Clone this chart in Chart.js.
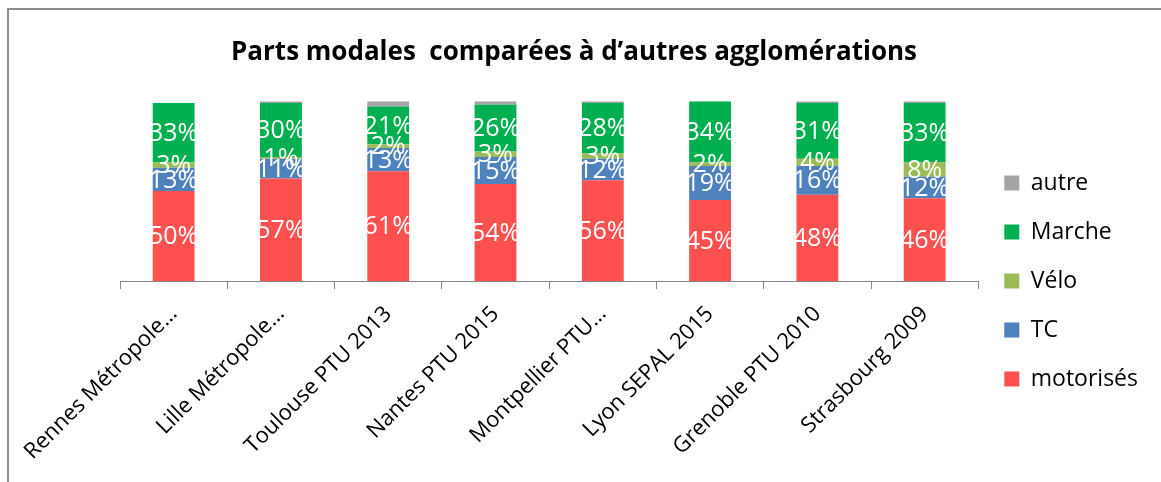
<!DOCTYPE html>
<html>
<head>
<meta charset="utf-8">
<script src="https://cdn.jsdelivr.net/npm/chart.js@4.4.0/dist/chart.umd.min.js"></script>
<style>
  html, body { margin: 0; padding: 0; background: #fff; }
  #wrap { width: 1161px; height: 482px; }
</style>
</head>
<body>
<div id="wrap"><canvas id="myChart" width="1161" height="482"></canvas></div>
<script>
const villes = ['Rennes Métropole…', 'Lille Métropole…', 'Toulouse PTU 2013', 'Nantes PTU 2015',
  'Montpellier PTU…', 'Lyon SEPAL 2015', 'Grenoble PTU 2010', 'Strasbourg 2009'];
const motorises = [50, 57, 61, 54, 56, 45, 48, 46];
const tc = [13, 11, 13, 15, 12, 19, 16, 12];
const velo = [3, 1, 2, 3, 3, 2, 4, 8];
const marche = [33, 30, 21, 26, 28, 34, 31, 33];
const autre = [0, 1, 3, 2, 1, 0, 1, 1];

const FONT = '"Open Sans", Lato, sans-serif';

// cadre gris du graphique Excel
const cadre = {
  id: 'cadre',
  beforeDraw(chart) {
    const c = chart.ctx;
    c.save();
    c.strokeStyle = '#8c8c8c';
    c.lineWidth = 2;
    c.beginPath();
    c.moveTo(8, 482);
    c.lineTo(8, 9);
    c.lineTo(1161, 9);
    c.stroke();
    c.restore();
  }
};

// étiquettes en % au centre de chaque segment
const etiquettes = {
  id: 'etiquettes',
  afterDatasetsDraw(chart) {
    const c = chart.ctx;
    c.save();
    c.fillStyle = '#fff';
    c.font = '25px ' + FONT;
    c.textAlign = 'center';
    c.textBaseline = 'middle';
    chart.data.datasets.forEach((ds, i) => {
      if (ds.label === 'autre') return;
      chart.getDatasetMeta(i).data.forEach((bar, j) => {
        const v = ds.data[j];
        if (!v) return;
        c.fillText(v + '%', bar.x, (bar.y + bar.base) / 2 + 1);
      });
    });
    c.restore();
  }
};

const ctx = document.getElementById('myChart').getContext('2d');
const myChart = new Chart(ctx, {
  type: 'bar',
  data: {
    labels: villes,
    datasets: [
      { label: 'motorisés', data: motorises, backgroundColor: '#FF5050' },
      { label: 'TC', data: tc, backgroundColor: '#4F81BD' },
      { label: 'Vélo', data: velo, backgroundColor: '#9BBB59' },
      { label: 'Marche', data: marche, backgroundColor: '#00B050' },
      { label: 'autre', data: autre, backgroundColor: '#A5A5A5' }
    ]
  },
  plugins: [cadre, etiquettes],
  options: {
    responsive: false,
    animation: false,
    layout: { padding: { left: 0, right: 13, top: 0, bottom: 0 } },
    datasets: { bar: { categoryPercentage: 1, barPercentage: 0.39 } },
    plugins: {
      tooltip: { enabled: false },
      title: {
        display: true,
        text: 'Parts modales  comparées à d’autres agglomérations',
        color: '#000',
        font: { family: FONT, size: 26, weight: 'bold' },
        padding: { top: 37, bottom: 33 }
      },
      legend: {
        position: 'right',
        reverse: true,
        title: { display: true, text: ' ', font: { size: 10 }, padding: 34 },
        labels: {
          boxWidth: 15,
          boxHeight: 15,
          padding: 26,
          color: '#000',
          font: { family: FONT, size: 23 }
        }
      }
    },
    scales: {
      x: {
        stacked: true,
        afterFit(scale) { scale.height = 201; },
        grid: { drawOnChartArea: false, drawTicks: true, tickLength: 8, color: '#868686', offset: true },
        border: { display: true, color: '#868686', width: 1 },
        ticks: { minRotation: 45, maxRotation: 45, autoSkip: false, color: '#000', padding: 12,
          font: { family: FONT, size: 22 } }
      },
      y: {
        stacked: true,
        min: 0,
        max: 100,
        afterFit(scale) { scale.width = 120; },
        grid: { display: false },
        border: { display: false },
        ticks: { display: false }
      }
    }
  }
});
</script>
</body>
</html>
